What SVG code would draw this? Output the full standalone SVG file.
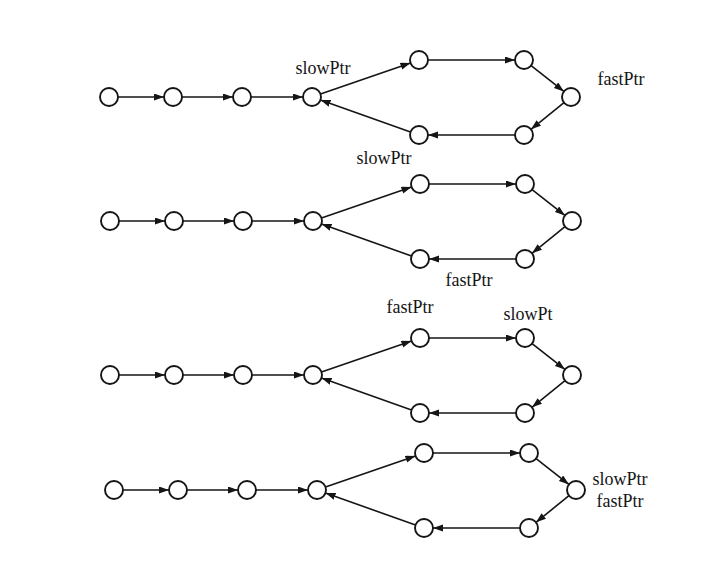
<svg xmlns="http://www.w3.org/2000/svg" width="714" height="563" viewBox="0 0 714 563">
  <style>
    .node circle { fill: #fff; stroke: #151515; stroke-width: 1.9; }
    .edge { stroke: #151515; stroke-width: 1.6; fill: none; marker-end: url(#arrow); }
    .label { font-family: "Liberation Serif", "Times New Roman", serif; font-size: 18px; fill: #151515; text-anchor: middle; }
  </style>
  <defs>
    <marker id="arrow" markerUnits="userSpaceOnUse" markerWidth="11" markerHeight="8" refX="10" refY="3.5" orient="auto">
      <path d="M0,0 L10,3.5 L0,7 Z" fill="#151515"/>
    </marker>
    <g id="rowEdges">
      <line class="edge" x1="-194" y1="0" x2="-148" y2="0"/>
      <line class="edge" x1="-130" y1="0" x2="-79" y2="0"/>
      <line class="edge" x1="-61" y1="0" x2="-9" y2="0"/>
      <line class="edge" x1="8.5" y1="-2.9" x2="98.5" y2="-34.1"/>
      <line class="edge" x1="116" y1="-37" x2="203" y2="-37"/>
      <line class="edge" x1="219.1" y1="-31.4" x2="251.9" y2="-5.6"/>
      <line class="edge" x1="252" y1="5.7" x2="219" y2="32.3"/>
      <line class="edge" x1="203" y1="38" x2="116" y2="38"/>
      <line class="edge" x1="98.5" y1="35" x2="8.5" y2="3"/>
    </g>
  </defs>
  <rect width="714" height="563" fill="#fff"/>

  <g id="connectors">
    <use href="#rowEdges" transform="translate(312,97)"/>
    <use href="#rowEdges" transform="translate(313,221)"/>
    <use href="#rowEdges" transform="translate(313,375)"/>
    <use href="#rowEdges" transform="translate(317,490)"/>
  </g>

  <g id="row1" transform="translate(312,97)">
    <g id="r1n1" class="node"><circle cx="-203" cy="0" r="9"/></g>
    <g id="r1n2" class="node"><circle cx="-139" cy="0" r="9"/></g>
    <g id="r1n3" class="node"><circle cx="-70" cy="0" r="9"/></g>
    <g id="r1n4" class="node"><circle cx="0" cy="0" r="9"/></g>
    <g id="r1n5" class="node"><circle cx="107" cy="-37" r="9"/></g>
    <g id="r1n6" class="node"><circle cx="212" cy="-37" r="9"/></g>
    <g id="r1n7" class="node"><circle cx="259" cy="0" r="9"/></g>
    <g id="r1n8" class="node"><circle cx="212" cy="38" r="9"/></g>
    <g id="r1n9" class="node"><circle cx="107" cy="38" r="9"/></g>
  </g>
  <g id="row2" transform="translate(313,221)">
    <g id="r2n1" class="node"><circle cx="-203" cy="0" r="9"/></g>
    <g id="r2n2" class="node"><circle cx="-139" cy="0" r="9"/></g>
    <g id="r2n3" class="node"><circle cx="-70" cy="0" r="9"/></g>
    <g id="r2n4" class="node"><circle cx="0" cy="0" r="9"/></g>
    <g id="r2n5" class="node"><circle cx="107" cy="-37" r="9"/></g>
    <g id="r2n6" class="node"><circle cx="212" cy="-37" r="9"/></g>
    <g id="r2n7" class="node"><circle cx="259" cy="0" r="9"/></g>
    <g id="r2n8" class="node"><circle cx="212" cy="38" r="9"/></g>
    <g id="r2n9" class="node"><circle cx="107" cy="38" r="9"/></g>
  </g>
  <g id="row3" transform="translate(313,375)">
    <g id="r3n1" class="node"><circle cx="-203" cy="0" r="9"/></g>
    <g id="r3n2" class="node"><circle cx="-139" cy="0" r="9"/></g>
    <g id="r3n3" class="node"><circle cx="-70" cy="0" r="9"/></g>
    <g id="r3n4" class="node"><circle cx="0" cy="0" r="9"/></g>
    <g id="r3n5" class="node"><circle cx="107" cy="-37" r="9"/></g>
    <g id="r3n6" class="node"><circle cx="212" cy="-37" r="9"/></g>
    <g id="r3n7" class="node"><circle cx="259" cy="0" r="9"/></g>
    <g id="r3n8" class="node"><circle cx="212" cy="38" r="9"/></g>
    <g id="r3n9" class="node"><circle cx="107" cy="38" r="9"/></g>
  </g>
  <g id="row4" transform="translate(317,490)">
    <g id="r4n1" class="node"><circle cx="-203" cy="0" r="9"/></g>
    <g id="r4n2" class="node"><circle cx="-139" cy="0" r="9"/></g>
    <g id="r4n3" class="node"><circle cx="-70" cy="0" r="9"/></g>
    <g id="r4n4" class="node"><circle cx="0" cy="0" r="9"/></g>
    <g id="r4n5" class="node"><circle cx="107" cy="-37" r="9"/></g>
    <g id="r4n6" class="node"><circle cx="212" cy="-37" r="9"/></g>
    <g id="r4n7" class="node"><circle cx="259" cy="0" r="9"/></g>
    <g id="r4n8" class="node"><circle cx="212" cy="38" r="9"/></g>
    <g id="r4n9" class="node"><circle cx="107" cy="38" r="9"/></g>
  </g>

  <g id="labels">
    <text class="label" x="323" y="74">slowPtr</text>
    <text class="label" x="621" y="85">fastPtr</text>
    <text class="label" x="384" y="164">slowPtr</text>
    <text class="label" x="469" y="286">fastPtr</text>
    <text class="label" x="410" y="313">fastPtr</text>
    <text class="label" x="528" y="320">slowPt</text>
    <text class="label" x="620" y="485">slowPtr</text>
    <text class="label" x="620" y="507">fastPtr</text>
  </g>
</svg>
